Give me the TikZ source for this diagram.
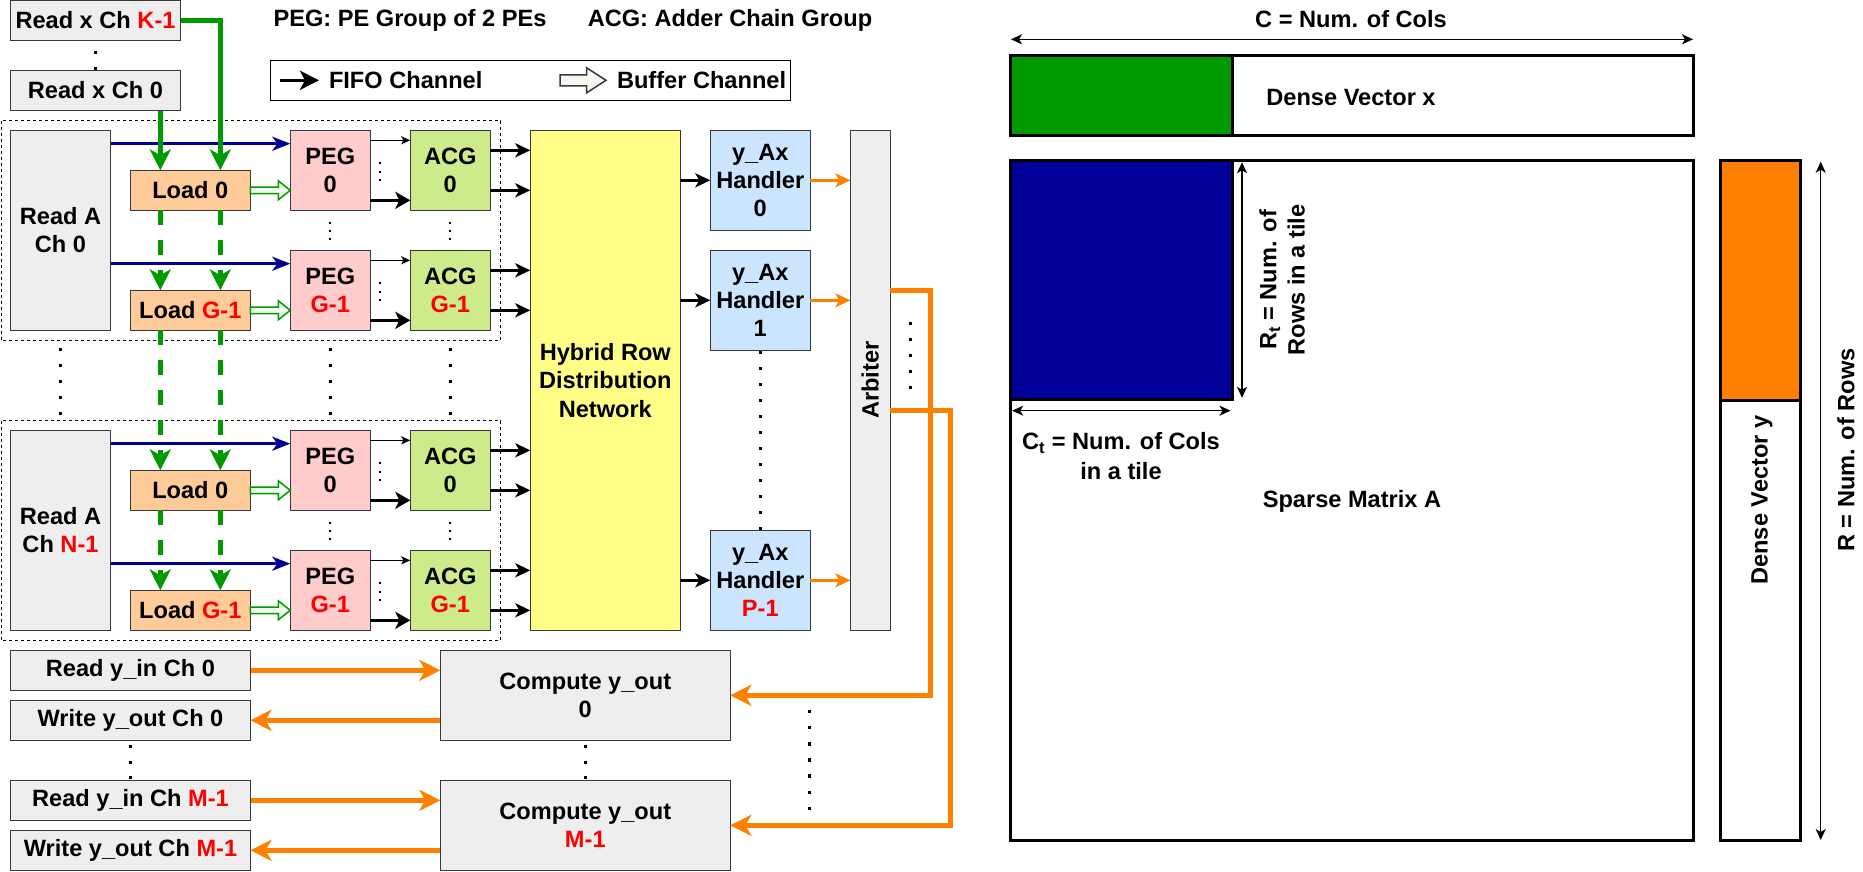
\documentclass[tikz,border=0pt]{standalone}
\usepackage{fontspec}
\setmainfont{Liberation Sans}
\usetikzlibrary{arrows.meta,calc}
\definecolor{boxgray}{HTML}{EEEEEE}
\definecolor{edge}{HTML}{36393D}
\definecolor{loadc}{HTML}{FFCC99}
\definecolor{pegc}{HTML}{FFCCCC}
\definecolor{acgc}{HTML}{CDEB8B}
\definecolor{hrdnc}{HTML}{FFFF88}
\definecolor{hdlc}{HTML}{CCE5FF}
\definecolor{grn}{HTML}{009900}
\definecolor{blu}{HTML}{000099}
\definecolor{org}{HTML}{FF8000}
\definecolor{rd}{HTML}{FF0000}
\definecolor{bufc}{HTML}{F6F6EE}
\definecolor{bufg}{HTML}{F2F9EE}
\newcommand\flexarrow[6]{%
  \draw[#1] ($(#2)+(0,-#4)$) -- ($(#3)+(-#6,-#4)$) -- ($(#3)+(-#6,-#5)$) -- (#3)
    -- ($(#3)+(-#6,#5)$) -- ($(#3)+(-#6,#4)$) -- ($(#2)+(0,#4)$) -- cycle;}
\newcommand\dotcol[5]{% x, y0, count, step, size
  \foreach \ii in {1,...,#3} {
    \fill[black] ({#1-#5/2},{#2+(\ii-1)*#4-#5/2}) rectangle ++(#5,#5);
  }}
\begin{document}
\begin{tikzpicture}[x=1pt,y=-1pt,
  every node/.style={font=\fontsize{23.6pt}{28.3pt}\selectfont\bfseries, inner sep=0pt, outer sep=0pt, align=center, text=black},
  blk/.style={draw=edge, line width=1pt, fill=#1},
  blk/.default=boxgray,
  sz/.style 2 args={minimum width=#1pt, minimum height=#2pt},
  dotbox/.style={draw=black, line width=1pt, dash pattern=on 3pt off 3pt},
  fifo/.style={draw=black, line width=3pt, -{Stealth[length=19pt,width=19pt,inset=5pt]}},
  thinarr/.style={draw=black, line width=1pt, -{Stealth[length=9pt,width=8pt,inset=2pt]}},
  thickarr/.style={draw=black, line width=3pt, -{Stealth[length=15pt,width=17pt,inset=4pt]}},
  blkarr/.style={draw=black, line width=3pt, -{Stealth[length=15pt,width=14pt,inset=4pt]}},
  bluearr/.style={draw=blu, line width=3pt, -{Stealth[length=18pt,width=14pt,inset=5pt]}},
  grnarr/.style={draw=grn, line width=4.5pt, -{Stealth[length=21pt,width=21pt,inset=6pt]}},
  grndash/.style={grnarr, dash pattern=on 15pt off 15pt},
  orgarr/.style={draw=org, line width=2.5pt, -{Stealth[length=15pt,width=14pt,inset=4pt]}},
  orgbig/.style={draw=org, line width=4.5pt, -{Stealth[length=21pt,width=21pt,inset=6pt]}},
  dimarr/.style={draw=black, line width=1.5pt, {Stealth[length=11pt,width=10pt,inset=3pt]}-{Stealth[length=11pt,width=10pt,inset=3pt]}},
  bufgrn/.style={draw=grn, line width=1.5pt, fill=bufg},
  buflegend/.style={draw=edge, line width=1.5pt, fill=bufc},
  thickbox/.style={draw=black, line width=3pt}
]
\useasboundingbox (0,0) rectangle (1863,871);

% ---------- header ----------
\node (t1) at (410,20) {PEG: PE Group of 2 PEs};
\node (t2) at (730,20) {ACG: Adder Chain Group};
\node[draw=black, line width=1pt, sz={520}{40}] (leg) at (530.3,80.3) {};
\coordinate (lf1) at (280,80.3);
\coordinate (lf2) at (319,80.3);
\draw[fifo] (lf1) -- (lf2);
\node[anchor=west] (lft) at (329,80.3) {FIFO Channel};
\coordinate (lb1) at (560,80.3);
\coordinate (lb2) at (606,80.3);
\flexarrow{buflegend}{lb1}{lb2}{5.5}{12.5}{19.3}
\node[anchor=west] (lbt) at (617,80.3) {Buffer Channel};

% ---------- x readers ----------
\node[blk, sz={170}{40}] (rxk) at (95.5,20.5) {Read x Ch \textcolor{rd}{K-1}};
\node[blk, sz={170}{40}] (rx0) at (95.5,90.5) {Read x Ch 0};
\dotcol{95.7}{52.3}{2}{16}{3.3}

% ---------- central blocks ----------
\node[blk=hrdnc, sz={150}{500}] (hrdn) at (605.3,380.3) {Hybrid Row\\Distribution\\Network};

\foreach \bk/\lab in {0/0,1/\textcolor{rd}{N-1}} {
  \pgfmathsetmacro\oy{300*\bk}
  \draw[dotbox] (1,120.7+\oy) rectangle (500.7,340.3+\oy);
  \node[blk, sz={100}{200}] (ra\bk) at (60.5,230.3+\oy) {Read A\\Ch \lab};
  \node[blk=loadc, sz={120}{40}] (lda\bk) at (190.3,190.3+\oy) {Load 0};
  \node[blk=loadc, sz={120}{40}] (ldb\bk) at (190.3,310.3+\oy) {Load \textcolor{rd}{G-1}};
  \node[blk=pegc, sz={80}{80}] (pea\bk) at (330.3,170.3+\oy) {PEG\\0};
  \node[blk=pegc, sz={80}{80}] (peb\bk) at (330.3,290.3+\oy) {PEG\\\textcolor{rd}{G-1}};
  \node[blk=acgc, sz={80}{80}] (aca\bk) at (450.3,170.3+\oy) {ACG\\0};
  \node[blk=acgc, sz={80}{80}] (acb\bk) at (450.3,290.3+\oy) {ACG\\\textcolor{rd}{G-1}};
  \foreach \rw in {a,b} {
    \coordinate (bl\rw\bk) at ($(pe\rw\bk.north west)+(0,13.4)$);
    \draw[bluearr] (ra\bk.east |- bl\rw\bk) -- (bl\rw\bk);
    \coordinate (bt\rw\bk) at (pe\rw\bk.west |- ld\rw\bk.east);
    \flexarrow{bufgrn}{ld\rw\bk.east}{bt\rw\bk}{3.3}{9.5}{12}
    \coordinate (pt\rw\bk) at ($(pe\rw\bk.north east)+(0,10)$);
    \draw[thinarr] (pt\rw\bk) -- (ac\rw\bk.west |- pt\rw\bk);
    \coordinate (pk\rw\bk) at ($(pe\rw\bk.south east)+(0,-10)$);
    \draw[thickarr] (pk\rw\bk) -- (ac\rw\bk.west |- pk\rw\bk);
    \coordinate (au\rw\bk) at ($(ac\rw\bk.north east)+(0,20)$);
    \coordinate (ad\rw\bk) at ($(ac\rw\bk.south east)+(0,-20)$);
    \draw[blkarr] (au\rw\bk) -- (hrdn.west |- au\rw\bk);
    \draw[blkarr] (ad\rw\bk) -- (hrdn.west |- ad\rw\bk);
  }
  \dotcol{330.3}{222.7+\oy}{3}{8.3}{1.8}
  \dotcol{450.3}{222.7+\oy}{3}{8.3}{1.8}
  \dotcol{380.3}{163.3+\oy}{3}{8.4}{1.8}
  \dotcol{380.3}{283.3+\oy}{3}{8.4}{1.8}
}
\dotcol{60.3}{349.3}{5}{16}{3.3}
\dotcol{330.3}{349.3}{5}{16}{3.3}
\dotcol{450.3}{349.3}{5}{16}{3.3}

% green x channels
\coordinate (gA) at (160.3,0);
\coordinate (gB) at (220.3,0);
\draw[grnarr] (rx0.south -| gA) -- (lda0.north -| gA);
\draw[grnarr] (rxk.east) -- (rxk.east -| gB) -- (lda0.north -| gB);
\foreach \gc in {gA,gB} {
  \draw[grndash] (lda0.south -| \gc) -- (ldb0.north -| \gc);
  \draw[grndash] (ldb0.south -| \gc) -- (lda1.north -| \gc);
  \draw[grndash] (lda1.south -| \gc) -- (ldb1.north -| \gc);
}

% ---------- handlers and arbiter ----------
\node[blk=hdlc, sz={100}{100}] (hd0) at (760.3,180.3) {y\_Ax\\Handler\\0};
\node[blk=hdlc, sz={100}{100}] (hd1) at (760.3,300.3) {y\_Ax\\Handler\\1};
\node[blk=hdlc, sz={100}{100}] (hdp) at (760.3,580.3) {y\_Ax\\Handler\\\textcolor{rd}{P-1}};
\node[blk, sz={40}{500}] (arb) at (870.3,380.3) {};
\node[rotate=90] (arbt) at (arb.center) {Arbiter};
\dotcol{760.3}{352.3}{12}{16}{3.3}
\dotcol{910.5}{323.3}{5}{16}{3.3}
\foreach \h in {hd0,hd1,hdp} {
  \draw[blkarr] (hrdn.east |- \h.west) -- (\h.west);
  \draw[orgarr] (\h.east) -- (arb.west |- \h.east);
}

% ---------- y channels ----------
\node[blk, sz={240}{40}] (ryi0) at (130.5,670.3) {Read y\_in Ch 0};
\node[blk, sz={240}{40}] (wyo0) at (130.5,720.3) {Write y\_out Ch 0};
\node[blk, sz={240}{40}] (ryim) at (130.5,800.3) {Read y\_in Ch \textcolor{rd}{M-1}};
\node[blk, sz={240}{40}] (wyom) at (130.5,850.3) {Write y\_out Ch \textcolor{rd}{M-1}};
\node[blk, sz={290}{90}] (cmp0) at (585.3,695.3) {Compute y\_out\\0};
\node[blk, sz={290}{90}] (cmpm) at (585.3,825.3) {Compute y\_out\\\textcolor{rd}{M-1}};
\dotcol{130.3}{746.7}{3}{15.5}{3.3}
\dotcol{585.3}{746.7}{3}{15.5}{3.3}
\dotcol{809.3}{711.7}{7}{16.1}{3.3}
\draw[orgbig] (ryi0.east) -- (cmp0.west |- ryi0.east);
\draw[orgbig] (cmp0.west |- wyo0.east) -- (wyo0.east);
\draw[orgbig] (ryim.east) -- (cmpm.west |- ryim.east);
\draw[orgbig] (cmpm.west |- wyom.east) -- (wyom.east);
\coordinate (ob1) at (930.5,290.7);
\coordinate (ob2) at (950.3,410.3);
\draw[orgbig] (arb.east |- ob1) -- (ob1) -- (ob1 |- cmp0.east) -- (cmp0.east);
\draw[orgbig] (arb.east |- ob2) -- (ob2) -- (ob2 |- cmpm.east) -- (cmpm.east);

% ---------- right: matrix picture ----------
\node[thickbox, fill=white, sz={682.8}{679.3}] (mat) at (1352.1,500.35) {};
\node[thickbox, fill=blu, sz={221.3}{238.6}] (tile) at (1121.35,280) {};
\node[thickbox, fill=white, sz={682.8}{79.6}] (dvx) at (1352.1,95.5) {};
\node[thickbox, fill=grn, sz={221.3}{79.6}] (dvxg) at (1121.35,95.5) {};
\node[thickbox, fill=white, sz={79.5}{679.3}] (dvy) at (1760.25,500.35) {};
\node[thickbox, fill=org, sz={79.5}{239.3}] (dvyo) at (1760.25,280.35) {};

\draw[dimarr] ($(dvx.north west)+(0.3,-16.4)$) -- ($(dvx.north east)+(-0.5,-16.4)$);
\draw[dimarr] ($(tile.north east)+(10,1.5)$) -- ($(tile.south east)+(10,-1.5)$);
\draw[dimarr] ($(tile.south west)+(1.5,11.4)$) -- ($(tile.south east)+(-1.5,11.4)$);
\draw[dimarr] ($(dvy.north east)+(20.7,1)$) -- ($(dvy.south east)+(20.7,0)$);

\node (ctop) at (1351,19.3) {C = Num. of Cols};
\node (dvxt) at (1351,97) {Dense Vector x};
\node[rotate=90] (rtt) at (1282,280) {R\textsubscript{t} = Num. of\\Rows in a tile};
\node (ctt) at (1121,456) {C\textsubscript{t} = Num. of Cols\\[1.5pt]in a tile};
\node (matt) at (1352,501.7) {Sparse Matrix A};
\node[rotate=90] (dvyt) at (1762,500) {Dense Vector y};
\node[rotate=90] (rrt) at (1846,450) {R = Num. of Rows};
\end{tikzpicture}
\end{document}
